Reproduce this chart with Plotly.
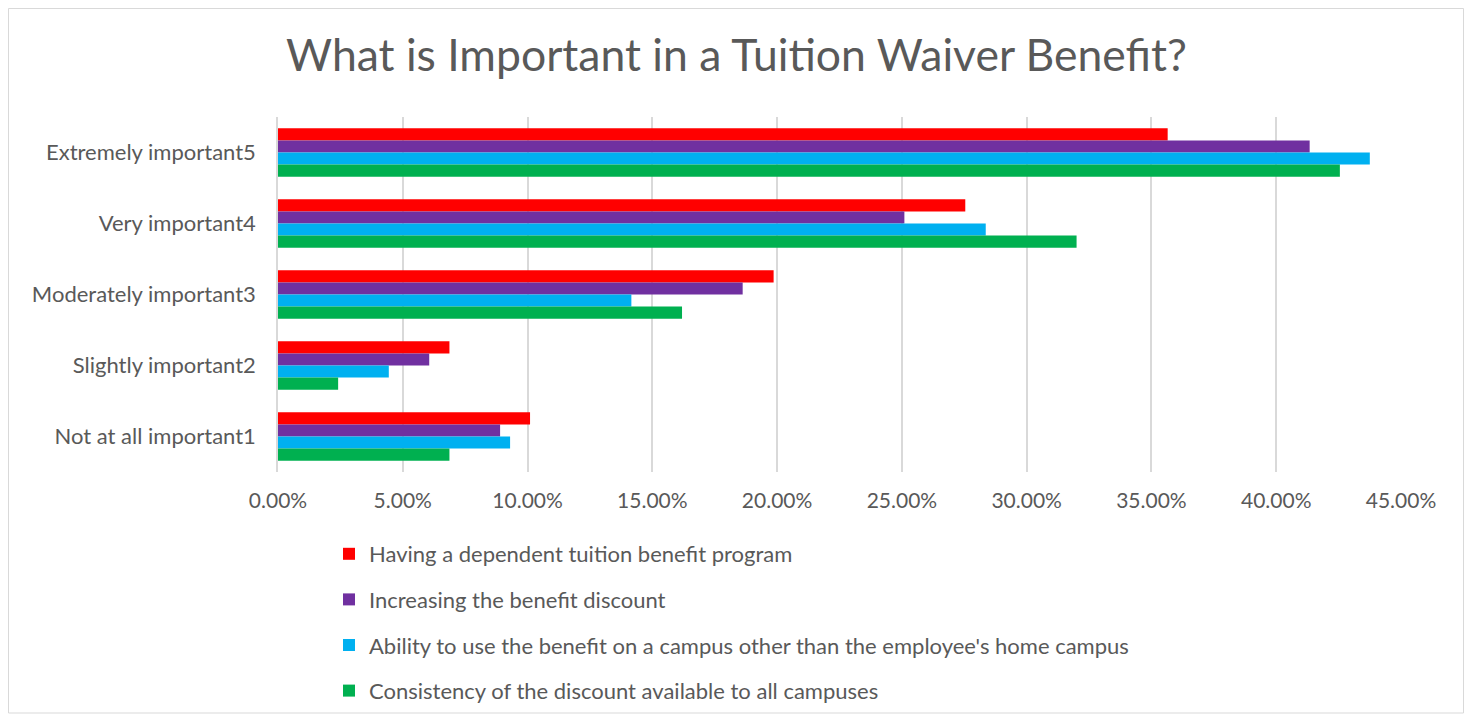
import plotly.graph_objects as go

categories = ["Extremely important5", "Very important4", "Moderately important3",
              "Slightly important2", "Not at all important1"]
series_names = [
    "Having a dependent tuition benefit program",
    "Increasing the benefit discount",
    "Ability to use the benefit on a campus other than the employee's home campus",
    "Consistency of the discount available to all campuses",
]
having_dependent = [0.3565, 0.2754, 0.1986, 0.0687, 0.1010]
increasing_discount = [0.4134, 0.2510, 0.1862, 0.0606, 0.0890]
other_campus = [0.4375, 0.2836, 0.1416, 0.0444, 0.0930]
consistency = [0.4255, 0.3200, 0.1619, 0.0241, 0.0687]
colors = ["#FF0000", "#7030A0", "#00B0F0", "#00B050"]
x_ticks = [0, 0.05, 0.10, 0.15, 0.20, 0.25, 0.30, 0.35, 0.40, 0.45]

# page body has an 8px margin; figure sized to fit the window without scrollbars
W, H = 1457, 706
L, R, T, B = 270, 64, 109, 242
pw = W - L - R
ph = H - T - B

fig = go.Figure()
for i, (name, vals) in enumerate(zip(series_names,
                                     [having_dependent, increasing_discount, other_campus, consistency])):
    fig.add_trace(go.Bar(
        y=categories, x=vals, name=name, orientation="h",
        marker=dict(color=colors[i], line=dict(width=0)),
        legendgroup=f"g{i}",
    ))

font_family = "Lato, 'Open Sans', sans-serif"


def px_x(p):
    return (p - L) / pw


def px_y(p):
    return (T + ph - p) / ph


fig.update_layout(
    width=W, height=H,
    margin=dict(l=L, r=R, t=T, b=B, autoexpand=False),
    paper_bgcolor="white", plot_bgcolor="white",
    barmode="group", bargap=0.32, bargroupgap=0,
    title=dict(text="What is Important in a Tuition Waiver Benefit?",
               x=0.5, xanchor="center", y=1 - 47 / H, yanchor="middle",
               font=dict(family=font_family, size=44.5, color="#595959", weight=400)),
    font=dict(family=font_family, color="#595959"),
    xaxis=dict(range=[0, 0.45], tickvals=x_ticks, tickformat=".2%",
               showgrid=True, gridcolor="#D9D9D9", gridwidth=1.5,
               zeroline=False, showline=False, ticks="",
               tickfont=dict(size=21, color="#595959"), ticklabelstandoff=14,
               fixedrange=True),
    yaxis=dict(autorange="reversed", showgrid=False, showline=True,
               linecolor="#D9D9D9", linewidth=1.5, ticks="",
               tickfont=dict(size=22, color="#595959"), ticklabelstandoff=16),
    legend=dict(orientation="v", x=px_x(321), xanchor="left",
                y=px_y(525), yanchor="top",
                font=dict(size=22, color="#595959"), tracegroupgap=14,
                traceorder="grouped", bgcolor="rgba(0,0,0,0)"),
    showlegend=True,
    shapes=[dict(type="rect", xref="paper", yref="paper",
                 x0=px_x(0.5), x1=px_x(W - 1.5), y0=px_y(H - 1), y1=px_y(0.5),
                 line=dict(color="#D9D9D9", width=1), layer="below")],
)

fig.write_html("out.html")
